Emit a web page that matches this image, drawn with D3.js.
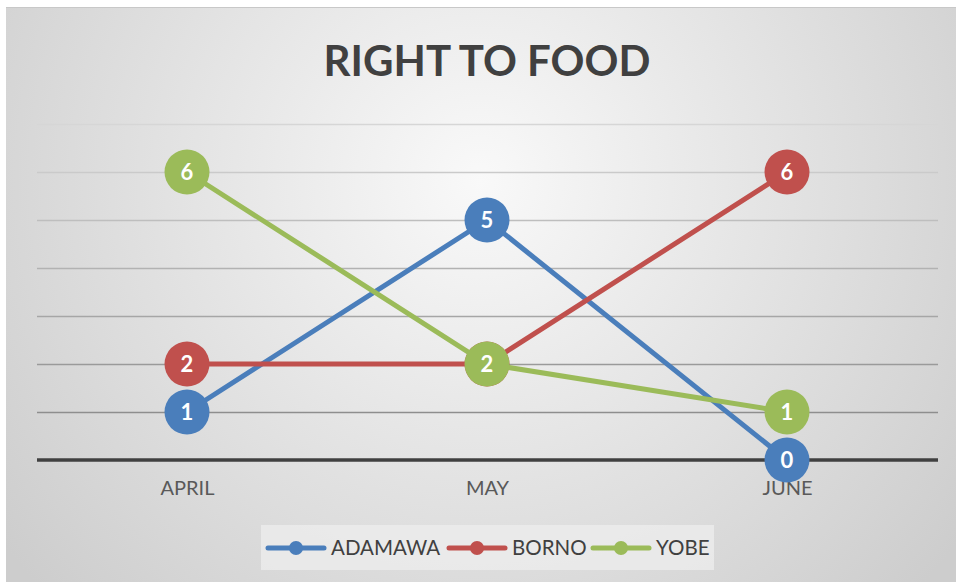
<!DOCTYPE html>
<html>
<head>
<meta charset="utf-8">
<script src="https://cdn.jsdelivr.net/npm/d3@7"></script>
<style>
  html, body { margin: 0; padding: 0; background: #fff; }
  svg { display: block; }
</style>
</head>
<body>
<div id="chart"></div>
<script>
const months = ["APRIL", "MAY", "JUNE"];
const adamawa = [1, 5, 0];
const borno = [2, 2, 6];
const yobe = [6, 2, 1];
const seriesNames = ["ADAMAWA", "BORNO", "YOBE"];
const seriesColors = ["#4a7ebb", "#c0504d", "#9bbb59"];
const yTicks = [1, 2, 3, 4, 5, 6, 7];

const W = 956, H = 582;
const series = [adamawa, borno, yobe].map((vals, i) => ({
  name: seriesNames[i],
  color: seriesColors[i],
  values: vals.map((v, j) => ({ month: months[j], value: v }))
}));

const svg = d3.select("#chart").append("svg")
  .attr("width", W).attr("height", H);

const defs = svg.append("defs");
const bg = defs.append("radialGradient")
  .attr("id", "bg")
  .attr("gradientUnits", "userSpaceOnUse")
  .attr("cx", 480).attr("cy", 180).attr("r", 600);
bg.append("stop").attr("offset", "0%").attr("stop-color", "#f9f9f9");
bg.append("stop").attr("offset", "100%").attr("stop-color", "#cdcdcd");

// chart background
svg.append("rect")
  .attr("x", 6).attr("y", 7)
  .attr("width", W - 6).attr("height", H - 7)
  .attr("fill", "url(#bg)");
svg.append("line")
  .attr("x1", 6).attr("x2", W).attr("y1", 7.5).attr("y2", 7.5)
  .attr("stroke", "#c8c8c8").attr("stroke-width", 1);

// title
svg.append("text")
  .attr("x", 487).attr("y", 76)
  .attr("text-anchor", "middle")
  .style("font-family", "Lato, 'Open Sans', sans-serif")
  .style("font-weight", "700")
  .style("font-size", "42px")
  .style("fill", "#404040")
  .text("RIGHT TO FOOD");

const x = d3.scalePoint().domain(months).range([37, 937]).padding(0.5);
const y = d3.scaleLinear().domain([0, 7]).range([460, 124]);
const gridColor = d3.scaleLinear().domain([1, 7]).range(["#8e8e8e", "#d6d6d6"]);

// gridlines
svg.append("g")
  .selectAll("line")
  .data(yTicks)
  .join("line")
  .attr("x1", 37).attr("x2", 938)
  .attr("y1", d => Math.round(y(d)) + 0.5)
  .attr("y2", d => Math.round(y(d)) + 0.5)
  .attr("stroke", d => gridColor(d))
  .attr("stroke-width", 1.5);

// x axis
const xAxis = svg.append("g")
  .attr("transform", `translate(0,${y(0)})`)
  .call(d3.axisBottom(x).tickSize(0).tickPadding(21));
xAxis.select(".domain").remove();
xAxis.append("line")
  .attr("x1", 37).attr("x2", 938)
  .attr("stroke", "#404040").attr("stroke-width", 3.5);
xAxis.selectAll("text")
  .style("font-family", "Lato, 'Open Sans', sans-serif")
  .style("font-size", "20px")
  .style("fill", "#595959");

// lines
const line = d3.line().x(d => x(d.month)).y(d => y(d.value));
const sg = svg.append("g")
  .selectAll("g")
  .data(series)
  .join("g");
sg.append("path")
  .attr("d", d => line(d.values))
  .attr("fill", "none")
  .attr("stroke", d => d.color)
  .attr("stroke-width", 5)
  .attr("stroke-linecap", "round");
sg.selectAll("circle")
  .data(d => d.values.map(v => ({ ...v, color: d.color })))
  .join("circle")
  .attr("cx", d => x(d.month))
  .attr("cy", d => y(d.value))
  .attr("r", 22.5)
  .attr("fill", d => d.color);
sg.selectAll("text")
  .data(d => d.values)
  .join("text")
  .attr("x", d => x(d.month))
  .attr("y", d => y(d.value) + 8)
  .attr("text-anchor", "middle")
  .style("font-family", "Lato, 'Open Sans', sans-serif")
  .style("font-weight", "700")
  .style("font-size", "22px")
  .style("fill", "#ffffff")
  .text(d => d.value);

// legend
const legend = svg.append("g");
legend.append("rect")
  .attr("x", 261).attr("y", 525)
  .attr("width", 453).attr("height", 45)
  .attr("fill", "#eeeeee").attr("opacity", 0.75);
const itemX = [266, 447, 591];
const item = legend.selectAll("g.item")
  .data(series)
  .join("g")
  .attr("class", "item")
  .attr("transform", (d, i) => `translate(${itemX[i]},548)`);
item.append("line")
  .attr("x1", 2).attr("x2", 58)
  .attr("stroke", d => d.color)
  .attr("stroke-width", 5)
  .attr("stroke-linecap", "round");
item.append("circle")
  .attr("cx", 30).attr("r", 7)
  .attr("fill", d => d.color);
item.append("text")
  .attr("x", 65).attr("y", 7)
  .style("font-family", "Lato, 'Open Sans', sans-serif")
  .style("font-size", "20.5px")
  .style("fill", "#404040")
  .text(d => d.name);
</script>
</body>
</html>
